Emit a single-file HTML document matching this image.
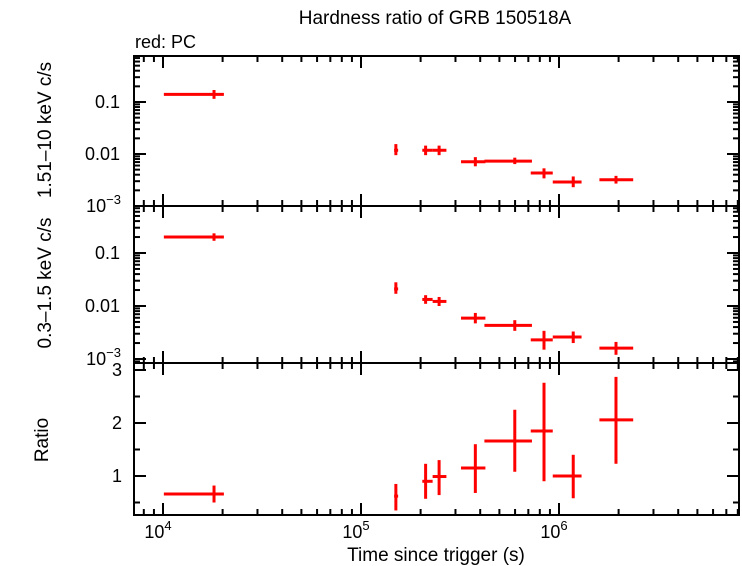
<!DOCTYPE html>
<html><head><meta charset="utf-8"><style>
html,body{margin:0;padding:0;background:#fff;}
svg{display:block;font-family:"Liberation Sans",sans-serif;}
</style></head><body>
<svg id="chart" width="742" height="566" viewBox="0 0 742 566">
<text x="435" y="24" font-size="19" text-anchor="middle">Hardness ratio of GRB 150518A</text>
<text x="135" y="48" font-size="18">red: PC</text>
<text transform="translate(51,130) rotate(-90)" font-size="19" text-anchor="middle">1.51–10 keV c/s</text>
<text transform="translate(51,283) rotate(-90)" font-size="19" text-anchor="middle">0.3–1.5 keV c/s</text>
<text transform="translate(48,440) rotate(-90)" font-size="19" text-anchor="middle">Ratio</text>
<text x="436" y="561" font-size="19" text-anchor="middle">Time since trigger (s)</text>
<g id="g"></g>
</svg>
<script>
const tMid=[1.81e4,1.5e5,2.12e5,2.48e5,3.78e5,5.98e5,8.4e5,1.18e6,1.94e6];
const tLo=[1.01e4,1.47e5,2.04e5,2.3e5,3.2e5,4.2e5,7.2e5,9.3e5,1.6e6];
const tHi=[2.03e4,1.54e5,2.3e5,2.7e5,4.25e5,7.3e5,9.3e5,1.3e6,2.37e6];
const hard=[0.14,0.0118,0.0118,0.0118,0.0071,0.0073,0.0043,0.0029,0.0032];
const hardLo=[0.115,0.0095,0.0095,0.0095,0.0058,0.0064,0.0034,0.0023,0.0027];
const hardHi=[0.17,0.0155,0.0145,0.0145,0.0087,0.0085,0.0053,0.0037,0.0038];
const soft=[0.2,0.021,0.0133,0.0122,0.0059,0.0043,0.0023,0.0026,0.0016];
const softLo=[0.17,0.017,0.011,0.0100,0.0047,0.0034,0.0015,0.0020,0.0012];
const softHi=[0.235,0.028,0.016,0.0148,0.0074,0.0054,0.0034,0.0033,0.0021];
const ratio=[0.66,0.62,0.9,0.99,1.15,1.66,1.85,1.0,2.06];
const ratioLo=[0.5,0.35,0.57,0.64,0.68,1.08,0.9,0.58,1.23];
const ratioHi=[0.82,0.85,1.23,1.3,1.6,2.25,2.76,1.4,2.87];
const xTickLabels=['4','5','6'];
const logTickLabels=['0.1','0.01','10'];
const ratioTicks=[1,2,3];

const NS='http://www.w3.org/2000/svg';
const g=document.getElementById('g');
const L=134,R=739;
const X=v=>163+(Math.log10(v)-4)*198;
const P=[{top:56,bot:206},{top:206,bot:363},{top:363,bot:515}];
const Yh=v=>102-(Math.log10(v)+1)*52;
const Ys=v=>253-(Math.log10(v)+1)*53;
const Yr=v=>476-(v-1)*53;
function el(t,a,parent){const e=document.createElementNS(NS,t);for(const k in a)e.setAttribute(k,a[k]);(parent||g).appendChild(e);return e;}
function line(x1,y1,x2,y2,c,w,name){const e=el('line',{x1,y1,x2,y2,stroke:c,'stroke-width':w});

return e;}
P.forEach((p,i)=>{const r=el('rect',{x:L,y:p.top,width:R-L,height:p.bot-p.top,fill:'none',stroke:'#000','stroke-width':2});


for(let d=3;d<=6;d++)for(let m=1;m<10;m++){const v=m*Math.pow(10,d);const x=X(v);if(x<L+1||x>R-1)continue;const len=m==1?12:6;
line(x,p.bot,x,p.bot-len,'#000',2,'x-tick');line(x,p.top,x,p.top+len,'#000',2,'x-tick');}
});
xTickLabels.forEach((s,i)=>{const x=X(Math.pow(10,4+i));const t=el('text',{x:x-5,y:538,'font-size':18,'text-anchor':'middle'});


t.textContent='10';const s2=el('tspan',{dy:-8,'font-size':13},t);s2.textContent=s;});
[[Yh,0],[Ys,1]].forEach(([Y,pi])=>{const p=P[pi];
for(let d=-4;d<=0;d++)for(let m=1;m<10;m++){const v=m*Math.pow(10,d);const y=Y(v);if(y<p.top+1||y>p.bot-1)continue;const len=m==1?12:6;
line(L,y,L+len,y,'#000',2,'y-tick');line(R,y,R-len,y,'#000',2,'y-tick');}
logTickLabels.forEach((s,i)=>{const y=Y(Math.pow(10,-1-i));const t=el('text',{x:120,y:y+6,'font-size':18,'text-anchor':'end'});


if(i==2){t.setAttribute('x',121);t.textContent='10';const s2=el('tspan',{dy:-8,'font-size':13},t);s2.textContent='−3';}else t.textContent=s;});
});
for(let v=0.5;v<=3.01;v+=0.5){const y=Yr(v);const len=Number.isInteger(v)?12:6;line(L,y,L+len,y,'#000',2,'y-tick');line(R,y,R-len,y,'#000',2,'y-tick');}
ratioTicks.forEach(v=>{const t=el('text',{x:122,y:Yr(v)+6,'font-size':18,'text-anchor':'end'});


t.textContent=v;});
function series(vals,lo,hi,Y,name){vals.forEach((v,i)=>{
line(X(tLo[i]),Y(v),X(tHi[i]),Y(v),'#f00',3,name+'-xerr');
line(X(tMid[i]),Y(lo[i]),X(tMid[i]),Y(hi[i]),'#f00',3,name+'-yerr');});}
series(hard,hardLo,hardHi,Yh,'hard-point');
series(soft,softLo,softHi,Ys,'soft-point');
series(ratio,ratioLo,ratioHi,Yr,'ratio-point');
</script>
</body></html>
